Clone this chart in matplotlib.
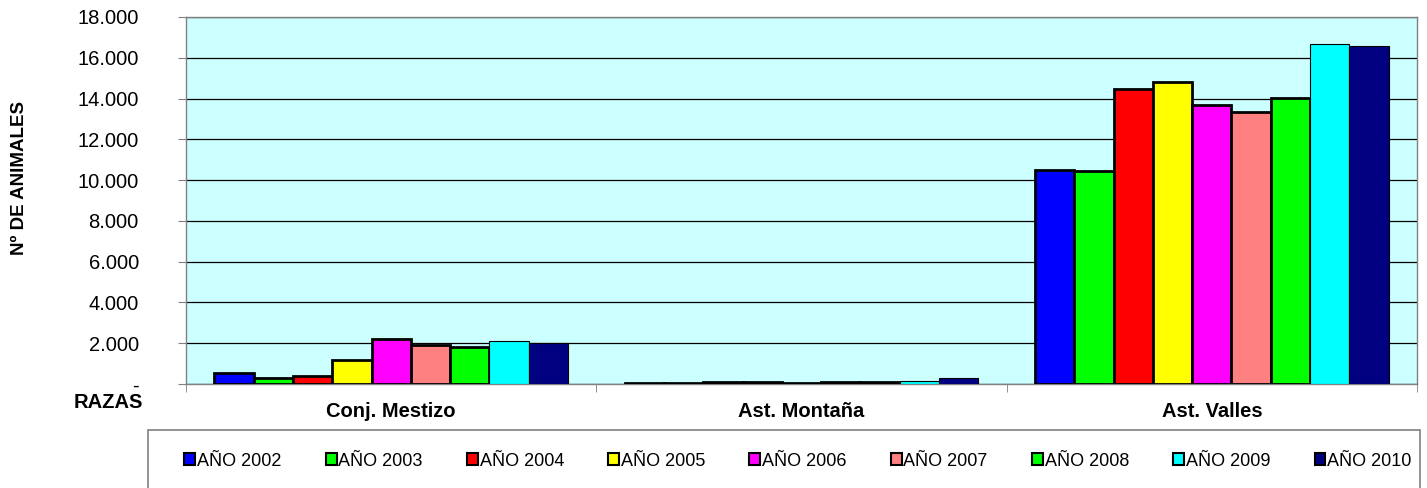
import numpy as np
import matplotlib.pyplot as plt
from matplotlib.patches import Rectangle
from matplotlib.transforms import ScaledTranslation
import matplotlib.ticker as ticker

plt.rcParams['font.family'] = ['Liberation Sans', 'DejaVu Sans']

# razas y años
razas = ['Conj. Mestizo', 'Ast. Montaña', 'Ast. Valles']
anios = ['AÑO 2002', 'AÑO 2003', 'AÑO 2004', 'AÑO 2005', 'AÑO 2006',
         'AÑO 2007', 'AÑO 2008', 'AÑO 2009', 'AÑO 2010']

# nº de animales por raza (una lista por año)
a2002 = [525, 50, 10520]
a2003 = [285, 70, 10470]
a2004 = [400, 80, 14450]
a2005 = [1200, 100, 14800]
a2006 = [2185, 60, 13700]
a2007 = [1915, 80, 13350]
a2008 = [1815, 80, 14050]
a2009 = [2100, 150, 16700]
a2010 = [2015, 280, 16600]
series = [a2002, a2003, a2004, a2005, a2006, a2007, a2008, a2009, a2010]

colores = ['#0000FF', '#00FF00', '#FF0000', '#FFFF00', '#FF00FF',
           '#FF8080', '#00FF00', '#00FFFF', '#000080']
bordes = [2.0, 2.0, 2.0, 2.0, 2.0, 2.0, 2.0, 0.8, 0.8]

W, H = 1427, 488
fig = plt.figure(figsize=(W / 100, H / 100), dpi=100)
ax = fig.add_axes([186 / W, 1 - 384 / H, (1417 - 186) / W, (384 - 17) / H])
ax.set_facecolor('#CCFFFF')

x = np.arange(len(razas))
n = len(series)
ancho = 0.0957
for i, vals in enumerate(series):
    off = (i - (n - 1) / 2) * ancho
    ax.bar(x + off, vals, ancho, color=colores[i], edgecolor='black',
           linewidth=bordes[i], label=anios[i], zorder=3)

ax.set_xlim(-0.5, 2.5)
ax.set_ylim(0, 18000)
ax.yaxis.set_major_locator(ticker.MultipleLocator(2000))
ax.yaxis.set_major_formatter(ticker.FuncFormatter(
    lambda v, p: '-' if v == 0 else f'{int(v):,}'.replace(',', '.')))
ax.grid(True, axis='y', color='black', linewidth=0.9, zorder=1)
ax.tick_params(axis='y', labelsize=14.5, length=6, color='#808080', pad=28)

ax.set_xticks(x)
ax.set_xticklabels(razas, fontsize=14.5, fontweight='bold')
ax.xaxis.set_minor_locator(ticker.FixedLocator([-0.5, 0.5, 1.5, 2.5]))
ax.tick_params(axis='x', which='major', length=0, pad=13)
ax.tick_params(axis='x', which='minor', length=6, color='#808080')

for s in ax.spines.values():
    s.set_color('#808080')
    s.set_linewidth(1.0)

fig.text(20 / W, 1 - 178 / H, 'Nº DE ANIMALES', rotation=90, fontsize=13.5,
         fontweight='bold', ha='center', va='center')
fig.text(108 / W, 1 - 403 / H, 'RAZAS', fontsize=14.5, fontweight='bold',
         ha='center', va='center')

# recuadro de la leyenda
fig.add_artist(Rectangle((148 / W, -0.02), (1420 - 148) / W, (488 - 430) / H + 0.02,
                         transform=fig.transFigure, facecolor='white',
                         edgecolor='#808080', linewidth=1.2))
leg = fig.legend(loc='center', bbox_to_anchor=(798 / W, 1 - 461 / H), ncol=9,
                 frameon=False, fontsize=13, handlelength=0.6, handleheight=0.6,
                 handletextpad=0.1, columnspacing=2.45)
for h in leg.legend_handles:
    h.set_linewidth(1.5)

# el guion del cero queda un poco por encima de la base
fig.canvas.draw()
cero = ax.get_yticklabels()[0]
cero.set_transform(cero.get_transform() + ScaledTranslation(0, 8 / 100, fig.dpi_scale_trans))

fig.savefig('out.png', dpi=100)
